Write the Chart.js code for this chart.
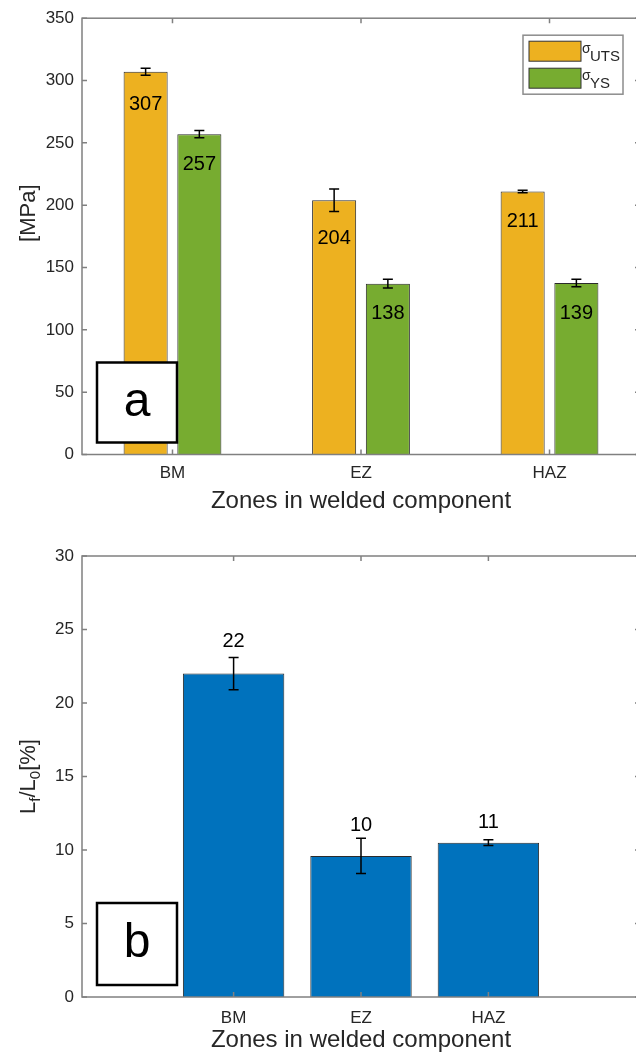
<!DOCTYPE html>
<html>
<head>
<meta charset="utf-8">
<script src="https://cdn.jsdelivr.net/npm/chart.js@4.4.1/dist/chart.umd.min.js"></script>
<style>
  html, body { margin: 0; padding: 0; background: #fff; overflow: hidden; }
  canvas { display: block; }
</style>
</head>
<body>
<canvas id="strength" width="642" height="520"></canvas>
<canvas id="elongation" width="642" height="535"></canvas>
<script>
// zones of the welded part, same for both panels
const zones = ['BM', 'EZ', 'HAZ'];
const zonePos = [1, 2, 3];

// panel a : strength in MPa
const utsValues = [307, 204, 211];
const utsErrors = [2.8, 9, 1];
const ysValues = [257, 137, 137.5];
const ysErrors = [3, 3.5, 3];
const utsLabels = ['307', '204', '211'];
const ysLabels = ['257', '138', '139'];
const strengthTicks = [0, 50, 100, 150, 200, 250, 300, 350];

// panel b : elongation in %
const elongValues = [22, 9.6, 10.5];
const elongErrors = [1.1, 1.2, 0.2];
const elongLabels = ['22', '10', '11'];
const elongTicks = [0, 5, 10, 15, 20, 25, 30];

const FONT = '"Liberation Sans", Arial, sans-serif';
const AXIS = '#808080';
const TEXT = '#262626';

function rotatedTitle(ctx, cx, cy, parts) {
  ctx.save();
  ctx.translate(cx, cy);
  ctx.rotate(-Math.PI / 2);
  ctx.fillStyle = TEXT;
  ctx.textBaseline = 'alphabetic';
  ctx.textAlign = 'left';
  let total = 0;
  parts.forEach(p => { ctx.font = p.size + 'px ' + FONT; p.w = ctx.measureText(p.t).width; total += p.w; });
  let x = -total / 2;
  parts.forEach(p => {
    ctx.font = p.size + 'px ' + FONT;
    ctx.fillText(p.t, x, 8 + (p.dy || 0));
    x += p.w;
  });
  ctx.restore();
}

// error bars, value labels, box frame, panel letter, legend
const matlabLook = {
  id: 'matlabLook',
  afterDatasetsDraw(chart, args, opts) {
    const ctx = chart.ctx;
    const ys = chart.scales.y;
    ctx.save();
    chart.data.datasets.forEach((ds, i) => {
      const meta = chart.getDatasetMeta(i);
      meta.data.forEach((bar, j) => {
        const v = ds.data[j].y, e = ds.errors[j];
        const y1 = ys.getPixelForValue(v + e), y2 = ys.getPixelForValue(v - e);
        ctx.strokeStyle = '#000';
        ctx.lineWidth = 1.5;
        ctx.beginPath();
        ctx.moveTo(bar.x, y1); ctx.lineTo(bar.x, y2);
        ctx.moveTo(bar.x - 5, y1); ctx.lineTo(bar.x + 5, y1);
        ctx.moveTo(bar.x - 5, y2); ctx.lineTo(bar.x + 5, y2);
        ctx.stroke();
        ctx.fillStyle = '#000';
        ctx.font = '20px ' + FONT;
        ctx.textAlign = 'center';
        ctx.textBaseline = 'middle';
        ctx.fillText(ds.valueLabels[j], bar.x, ys.getPixelForValue(ds.labelAt[j]));
      });
    });
    ctx.restore();
  },
  afterDraw(chart, args, opts) {
    const ctx = chart.ctx;
    const {left, right, top, bottom} = chart.chartArea;
    const xs = chart.scales.x, ys = chart.scales.y;
    ctx.save();
    // frame
    ctx.strokeStyle = AXIS;
    ctx.lineWidth = 1.5;
    ctx.strokeRect(left, top, right - left, bottom - top);
    ctx.beginPath();
    ys.ticks.forEach(t => {
      const py = ys.getPixelForValue(t.value);
      ctx.moveTo(left, py); ctx.lineTo(left + 5, py);
      ctx.moveTo(right, py); ctx.lineTo(right - 5, py);
    });
    xs.ticks.forEach(t => {
      const px = xs.getPixelForValue(t.value);
      ctx.moveTo(px, bottom); ctx.lineTo(px, bottom - 5);
      ctx.moveTo(px, top); ctx.lineTo(px, top + 5);
    });
    ctx.stroke();

    // y title
    rotatedTitle(ctx, 27, top + (bottom - top) * opts.yTitleAt, opts.yTitle);

    // panel letter box
    const bx = left + 15, by = bottom - opts.boxGap - opts.boxH;
    ctx.fillStyle = '#fff';
    ctx.fillRect(bx, by, 80, opts.boxH);
    ctx.strokeStyle = '#000';
    ctx.lineWidth = 2.5;
    ctx.strokeRect(bx, by, 80, opts.boxH);
    ctx.fillStyle = '#000';
    ctx.font = '48px ' + FONT;
    ctx.textAlign = 'center';
    ctx.textBaseline = 'middle';
    ctx.fillText(opts.letter, bx + 40, by + opts.boxH / 2);

    // legend with subscripts
    if (opts.legend) {
      const lx = right - 117, ly = top + 17;
      ctx.fillStyle = '#fff';
      ctx.fillRect(lx, ly, 100, 59);
      ctx.strokeStyle = '#8c8c8c';
      ctx.lineWidth = 1.5;
      ctx.strokeRect(lx, ly, 100, 59);
      chart.data.datasets.forEach((ds, i) => {
        const sy = ly + 6 + i * 27;
        ctx.fillStyle = ds.backgroundColor;
        ctx.fillRect(lx + 6, sy, 52, 20);
        ctx.strokeStyle = '#333';
        ctx.lineWidth = 1;
        ctx.strokeRect(lx + 6, sy, 52, 20);
        ctx.fillStyle = TEXT;
        ctx.textAlign = 'left';
        ctx.textBaseline = 'alphabetic';
        ctx.font = '14px ' + FONT;
        ctx.fillText('\u03c3', lx + 59, sy + 12);
        ctx.font = '15px ' + FONT;
        ctx.fillText(ds.sub, lx + 67, sy + 20);
      });
    }
    ctx.restore();
  }
};

function makeScales(xMin, xMax, yMax, yTicks, xHeight, tickPad, titleBottom) {
  return {
    x: {
      type: 'linear', min: xMin, max: xMax, offset: false,
      grid: { display: false, drawTicks: false }, border: { display: false },
      afterBuildTicks: s => { s.ticks = zonePos.map(v => ({ value: v })); },
      afterFit: s => { s.height = xHeight; },
      ticks: {
        autoSkip: false, maxRotation: 0, padding: tickPad, color: TEXT,
        font: { family: FONT, size: 17 },
        callback: (v, i) => zones[i]
      },
      title: {
        display: true, text: 'Zones in welded component', color: TEXT,
        font: { family: FONT, size: 24 }, padding: { top: 4, bottom: titleBottom }
      }
    },
    y: {
      min: 0, max: yMax,
      grid: { display: false, drawTicks: false }, border: { display: false },
      afterBuildTicks: s => { s.ticks = yTicks.map(v => ({ value: v })); },
      afterFit: s => { s.width = 82; },
      ticks: { padding: 8, color: TEXT, font: { family: FONT, size: 17 } }
    }
  };
}

new Chart(document.getElementById('strength'), {
  type: 'bar',
  data: {
    datasets: [{
      label: 'UTS', sub: 'UTS',
      data: zonePos.map((p, i) => ({ x: p, y: utsValues[i] })),
      errors: utsErrors, valueLabels: utsLabels, labelAt: [281, 173, 187],
      backgroundColor: '#EDB120', borderColor: '#2b2b2b', borderWidth: 1,
      categoryPercentage: 0.57, barPercentage: 0.82
    }, {
      label: 'YS', sub: 'YS',
      data: zonePos.map((p, i) => ({ x: p, y: ysValues[i] })),
      errors: ysErrors, valueLabels: ysLabels, labelAt: [233, 113, 113],
      backgroundColor: '#77AC30', borderColor: '#2b2b2b', borderWidth: 1,
      categoryPercentage: 0.57, barPercentage: 0.82
    }]
  },
  options: {
    responsive: false,
    animation: false,
    layout: { padding: { top: 16, right: 2, left: 0, bottom: 0 } },
    plugins: {
      legend: { display: false },
      tooltip: { enabled: false },
      matlabLook: {
        letter: 'a', boxGap: 12, boxH: 80, legend: true, yTitleAt: 0.447,
        yTitle: [{ t: '[MPa]', size: 22 }]
      }
    },
    scales: makeScales(0.52, 3.48, 350, strengthTicks, 65.5, 9, 4)
  },
  plugins: [matlabLook]
});

new Chart(document.getElementById('elongation'), {
  type: 'bar',
  data: {
    datasets: [{
      label: 'Lf/L0',
      data: zonePos.map((p, i) => ({ x: p, y: elongValues[i] })),
      errors: elongErrors, valueLabels: elongLabels, labelAt: [24.2, 11.7, 11.9],
      backgroundColor: '#0072BD', borderColor: '#2b2b2b', borderWidth: 1,
      categoryPercentage: 0.8, barPercentage: 0.995
    }]
  },
  options: {
    responsive: false,
    animation: false,
    layout: { padding: { top: 36, right: 2, left: 0, bottom: 0 } },
    plugins: {
      legend: { display: false },
      tooltip: { enabled: false },
      matlabLook: {
        letter: 'b', boxGap: 12, boxH: 82, legend: false, yTitleAt: 0.5,
        yTitle: [{ t: 'L', size: 22 }, { t: 'f', size: 15, dy: 5 }, { t: '/L', size: 22 },
                 { t: '0', size: 15, dy: 5 }, { t: '[%]', size: 22 }]
      }
    },
    scales: makeScales(-0.19, 4.19, 30, elongTicks, 58, 11, 0)
  },
  plugins: [matlabLook]
});
</script>
</body>
</html>
